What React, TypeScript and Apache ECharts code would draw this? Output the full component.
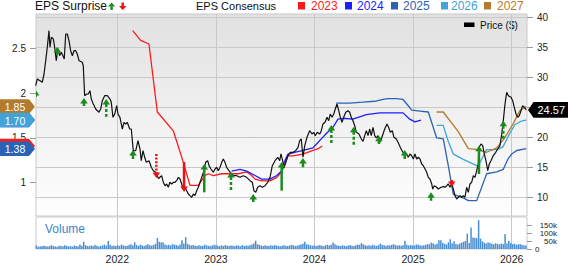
import React, { useEffect, useRef } from "react";
import * as echarts from "echarts";

const FONT = '"Liberation Sans", Arial, Helvetica, sans-serif';

// ---------- tick labels ----------
const yearTicks = [2022, 2023, 2024, 2025, 2026];
const priceTicks = [10, 15, 20, 25, 30, 35, 40];
const priceLabelTicks = [10, 15, 20, 30, 35, 40]; // 25 sits under the last-price tag
const epsTicks = [1, 1.5, 2, 2.5];
const volumeTicksK = [0, 50, 100, 150];

// ---------- price ($), [decimal year, close] ----------
const price: [number, number][] = [
  [2021.172, 28.6], [2021.189, 29.72], [2021.216, 29.43], [2021.239, 29.17], [2021.257, 30.55],
  [2021.274, 32.77], [2021.29, 35.0], [2021.307, 37.77], [2021.317, 35.0], [2021.331, 36.67],
  [2021.351, 36.38], [2021.365, 35.0], [2021.381, 32.77], [2021.399, 34.72], [2021.416, 33.6],
  [2021.432, 34.17], [2021.449, 33.6], [2021.462, 33.05], [2021.477, 37.22], [2021.493, 37.22],
  [2021.51, 36.1], [2021.527, 34.43], [2021.544, 33.6], [2021.561, 34.43], [2021.578, 34.43],
  [2021.594, 33.88], [2021.612, 32.77], [2021.645, 32.5], [2021.655, 31.93], [2021.669, 26.93],
  [2021.69, 27.22], [2021.706, 27.22], [2021.723, 27.77], [2021.736, 26.38], [2021.757, 25.55],
  [2021.781, 24.72], [2021.814, 24.17], [2021.832, 24.72], [2021.848, 26.1], [2021.872, 26.93],
  [2021.899, 26.93], [2021.926, 26.38], [2021.939, 25.83], [2021.956, 23.33], [2021.974, 23.88],
  [2021.994, 25.27], [2022.007, 23.88], [2022.027, 23.33], [2022.051, 21.38], [2022.068, 22.5],
  [2022.085, 22.22], [2022.101, 22.5], [2022.126, 21.38], [2022.142, 21.38], [2022.162, 17.77],
  [2022.187, 17.77], [2022.21, 19.43], [2022.23, 18.05], [2022.243, 16.1], [2022.261, 17.77],
  [2022.278, 16.67], [2022.294, 15.83], [2022.322, 16.1], [2022.345, 15.0], [2022.365, 14.43],
  [2022.39, 14.17], [2022.418, 13.13], [2022.45, 13.6], [2022.467, 12.5], [2022.484, 11.93],
  [2022.501, 12.22], [2022.517, 11.67], [2022.534, 12.5], [2022.552, 12.22], [2022.568, 12.5],
  [2022.585, 12.5], [2022.602, 12.77], [2022.619, 13.33], [2022.636, 13.05], [2022.653, 12.22],
  [2022.669, 11.38], [2022.686, 11.67], [2022.704, 11.1], [2022.72, 10.55], [2022.737, 10.27],
  [2022.755, 10.0], [2022.771, 10.55], [2022.788, 10.27], [2022.805, 11.1], [2022.822, 11.67],
  [2022.856, 13.33], [2022.879, 14.43], [2022.896, 15.83], [2022.917, 16.1], [2022.93, 15.27],
  [2022.95, 14.72], [2022.974, 14.17], [2022.991, 14.72], [2023.008, 15.0], [2023.024, 14.43],
  [2023.042, 15.0], [2023.059, 15.83], [2023.075, 16.38], [2023.092, 15.83], [2023.109, 15.0],
  [2023.133, 14.43], [2023.153, 14.0], [2023.177, 13.6], [2023.211, 13.6], [2023.244, 13.33],
  [2023.278, 13.6], [2023.312, 13.33], [2023.346, 12.77], [2023.369, 12.5], [2023.386, 11.1],
  [2023.404, 10.83], [2023.424, 11.67], [2023.447, 11.93], [2023.471, 11.67], [2023.498, 11.93],
  [2023.525, 12.5], [2023.549, 13.33], [2023.572, 15.27], [2023.6, 16.1], [2023.627, 16.67],
  [2023.647, 16.1], [2023.66, 17.22], [2023.677, 16.1], [2023.691, 14.88], [2023.714, 16.1],
  [2023.731, 16.93], [2023.755, 17.5], [2023.782, 17.5], [2023.809, 17.77], [2023.833, 18.33],
  [2023.85, 19.43], [2023.866, 19.72], [2023.883, 16.67], [2023.901, 18.6], [2023.924, 20.0],
  [2023.951, 21.1], [2023.975, 20.55], [2023.992, 20.83], [2024.008, 20.27], [2024.028, 20.83],
  [2024.053, 20.55], [2024.069, 21.1], [2024.086, 22.22], [2024.107, 22.5], [2024.127, 23.33],
  [2024.144, 22.77], [2024.16, 23.88], [2024.178, 23.33], [2024.195, 23.88], [2024.211, 24.72],
  [2024.228, 25.55], [2024.246, 24.43], [2024.262, 23.33], [2024.279, 22.5], [2024.296, 23.33],
  [2024.317, 24.17], [2024.34, 24.43], [2024.357, 24.17], [2024.373, 23.33], [2024.39, 22.77],
  [2024.408, 21.93], [2024.424, 20.83], [2024.451, 20.55], [2024.475, 19.72], [2024.492, 19.33],
  [2024.509, 20.27], [2024.526, 21.1], [2024.543, 20.27], [2024.56, 21.38], [2024.576, 20.27],
  [2024.593, 21.67], [2024.611, 20.27], [2024.627, 19.88], [2024.644, 20.27], [2024.661, 19.17],
  [2024.678, 19.72], [2024.695, 20.55], [2024.712, 21.38], [2024.735, 22.22], [2024.752, 21.67],
  [2024.769, 20.83], [2024.789, 21.1], [2024.806, 20.0], [2024.83, 19.72], [2024.847, 19.17],
  [2024.87, 18.33], [2024.887, 17.77], [2024.908, 17.22], [2024.933, 17.22], [2024.951, 16.67],
  [2024.968, 17.22], [2024.986, 16.93], [2025.002, 16.38], [2025.019, 17.22], [2025.036, 16.38],
  [2025.053, 16.67], [2025.07, 16.38], [2025.087, 15.55], [2025.104, 15.27], [2025.121, 14.72],
  [2025.138, 14.17], [2025.154, 13.33], [2025.171, 13.05], [2025.189, 12.22], [2025.199, 11.38],
  [2025.215, 11.93], [2025.239, 11.67], [2025.256, 11.38], [2025.283, 11.67], [2025.306, 11.77],
  [2025.324, 11.67], [2025.341, 11.93], [2025.357, 12.22], [2025.374, 11.67], [2025.392, 12.22],
  [2025.408, 11.38], [2025.425, 10.27], [2025.442, 9.72], [2025.459, 10.0], [2025.476, 10.27],
  [2025.493, 10.0], [2025.509, 10.27], [2025.526, 10.0], [2025.543, 11.67], [2025.56, 10.83],
  [2025.577, 12.22], [2025.594, 12.5], [2025.611, 13.6], [2025.628, 13.33], [2025.645, 14.43],
  [2025.661, 15.55], [2025.668, 18.33], [2025.689, 18.88], [2025.706, 18.6], [2025.722, 17.22],
  [2025.739, 16.1], [2025.757, 14.43], [2025.773, 15.55], [2025.79, 16.1], [2025.813, 16.93],
  [2025.838, 17.5], [2025.858, 18.05], [2025.881, 18.6], [2025.899, 20.55], [2025.915, 22.77],
  [2025.932, 25.55], [2025.949, 27.5], [2025.966, 26.93], [2025.993, 26.67], [2026.01, 26.1],
  [2026.026, 25.0], [2026.044, 23.88], [2026.061, 23.33], [2026.077, 23.6], [2026.094, 24.43],
  [2026.111, 25.27], [2026.128, 25.0], [2026.148, 24.57],
];

// ---------- EPS consensus by fiscal year, [decimal year, EPS] ----------
const eps2023: [number, number][] = [
  [2022.156, 2.7], [2022.237, 2.59], [2022.321, 2.55], [2022.406, 1.79], [2022.568, 1.58],
  [2022.669, 1.23], [2022.737, 0.97], [2022.821, 0.97], [2022.889, 1.08], [2022.923, 1.1],
  [2022.974, 1.08], [2023.059, 1.1], [2023.143, 1.1], [2023.227, 1.1], [2023.312, 1.12],
  [2023.363, 1.08], [2023.397, 1.04], [2023.464, 1.02], [2023.549, 1.02], [2023.617, 1.06],
  [2023.667, 1.12], [2023.698, 1.21], [2023.731, 1.3], [2023.782, 1.3], [2023.883, 1.32],
  [2023.985, 1.36], [2024.036, 1.38], [2024.079, 1.41],
];
const eps2024: [number, number][] = [
  [2023.16, 1.13], [2023.244, 1.15], [2023.312, 1.13], [2023.397, 1.08], [2023.464, 1.04],
  [2023.549, 1.04], [2023.617, 1.08], [2023.667, 1.13], [2023.684, 1.21], [2023.731, 1.32],
  [2023.799, 1.34], [2023.883, 1.36], [2023.985, 1.39], [2024.018, 1.43], [2024.069, 1.49],
  [2024.12, 1.55], [2024.188, 1.62], [2024.238, 1.71], [2024.289, 1.72], [2024.39, 1.71],
  [2024.525, 1.76], [2024.661, 1.78], [2024.796, 1.78], [2024.898, 1.78], [2024.966, 1.71],
  [2025.019, 1.68], [2025.08, 1.7],
];
const eps2025: [number, number][] = [
  [2024.221, 1.89], [2024.357, 1.89], [2024.492, 1.9], [2024.611, 1.91], [2024.695, 1.93],
  [2024.745, 1.94], [2024.83, 1.94], [2024.898, 1.93], [2024.951, 1.86], [2024.986, 1.81],
  [2025.07, 1.8], [2025.154, 1.79], [2025.239, 1.5], [2025.306, 1.49], [2025.357, 1.19],
  [2025.408, 0.87], [2025.509, 0.83], [2025.56, 0.8], [2025.645, 0.8], [2025.746, 1.1],
  [2025.848, 1.12], [2025.915, 1.15], [2025.965, 1.27], [2026.0, 1.32], [2026.051, 1.36],
  [2026.148, 1.38],
];
const eps2026: [number, number][] = [
  [2025.239, 1.64], [2025.306, 1.64], [2025.357, 1.46], [2025.408, 1.32], [2025.509, 1.26],
  [2025.645, 1.19], [2025.661, 1.19], [2025.746, 1.37], [2025.851, 1.37], [2025.912, 1.4],
  [2025.965, 1.52], [2026.033, 1.65], [2026.101, 1.69], [2026.148, 1.7],
];
const eps2027: [number, number][] = [
  [2025.239, 1.79], [2025.306, 1.79], [2025.458, 1.57], [2025.56, 1.38], [2025.658, 1.37],
  [2025.746, 1.34], [2025.848, 1.39], [2025.922, 1.49], [2026.016, 1.66], [2026.084, 1.81],
  [2026.148, 1.85],
];

// ---------- EPS surprises: [decimal year, arrow top ($), arrow bottom ($), 1 beat / -1 miss, stem 0 solid / 1 dashed / 2 dotted] ----------
const surprises: [number, number, number, number, number][] = [
  [2021.172, 27.88, 26.72, 1, 0],
  [2021.391, 35.1, 33.6, 1, 1],
  [2021.662, 26.55, 25.22, 1, 0],
  [2021.888, 26.38, 23.43, 1, 1],
  [2022.159, 17.88, 16.38, 1, 0],
  [2022.396, 17.22, 13.22, -1, 2],
  [2022.677, 15.88, 10.88, -1, 0],
  [2022.882, 15.55, 10.83, 1, 0],
  [2023.153, 14.22, 10.88, 1, 1],
  [2023.379, 10.55, 9.22, 1, 0],
  [2023.667, 15.88, 11.1, 1, 0],
  [2023.883, 16.55, 15.0, 1, 0],
  [2024.171, 22.05, 18.88, 1, 1],
  [2024.398, 21.77, 18.6, 1, 1],
  [2024.654, 20.27, 18.88, 1, 0],
  [2024.915, 17.88, 16.38, 1, 0],
  [2025.182, 10.83, 9.43, 1, 0],
  [2025.392, 12.88, 11.72, -1, 0],
  [2025.668, 18.6, 13.88, 1, 0],
  [2025.915, 22.77, 19.72, 1, 1],
];

// ---------- weekly volume (thousands of shares) ----------
const volumeStart = 2021.18;
const weeksPerYear = 52.18;
const volumeK: number[] = [
  22, 14, 16, 18, 20, 17, 15, 19, 24, 18, 16, 14, 21, 19, 17, 23, 20, 16, 18, 15, 22, 19, 17, 28, 21, 46,
  24, 19, 17, 22, 18, 25, 20, 16, 19, 23, 27, 21, 50, 26, 19, 22, 18, 24, 20, 28, 23, 19, 21, 25, 30, 22,
  42, 24, 20, 27, 22, 19, 25, 30, 23, 21, 26, 33, 69, 45, 40, 42, 28, 24, 26, 22, 30, 27, 25, 21, 28, 54,
  35, 74, 32, 26, 22, 25, 20, 18, 24, 21, 19, 27, 23, 20, 18, 22, 26, 24, 20, 17, 23, 19, 25, 21, 18, 22,
  20, 18, 23, 21, 17, 25, 19, 22, 20, 24, 28, 35, 52, 30, 26, 22, 19, 24, 21, 18, 23, 20, 25, 22, 19, 17,
  21, 24, 20, 18, 22, 26, 23, 19, 21, 25, 28, 33, 46, 30, 27, 24, 20, 23, 19, 22, 25, 21, 18, 24, 27, 22,
  26, 41, 30, 24, 21, 19, 23, 20, 18, 22, 25, 21, 19, 24, 28, 26, 37, 29, 23, 20, 24, 21, 26, 22, 19, 25,
  33, 27, 23, 20, 24, 22, 26, 30, 25, 21, 23, 20, 24, 52, 27, 22, 25, 23, 21, 28, 26, 24, 20, 23, 27, 30,
  30, 40, 35, 28, 33, 54, 54, 38, 33, 29, 42, 61, 36, 48, 31, 28, 34, 40, 45, 50, 96, 38, 135, 72, 70, 68,
  180, 65, 48, 40, 35, 42, 38, 33, 30, 36, 32, 29, 34, 31, 93, 35, 52, 38, 30, 33, 27, 29, 31, 26, 24, 22,
];

// ---------- axis ranges / styling ----------
const X_MIN = 2021.1755;
const X_MAX = 2026.1552;
const PRICE_MIN = 6.883;
const PRICE_MAX = 40.55;
const EPS_MIN = 0.628;
const EPS_MAX = 2.885;
const VOL_MAX = 200;

const GREEN = "#1d8a1d";
const RED = "#ee1111";
const GRID_COLOR = "#c9c9c9";

const consensus = [
  { name: "2023", color: "#ff1a1a", data: eps2023 },
  { name: "2024", color: "#1e1eff", data: eps2024 },
  { name: "2025", color: "#2a63b5", data: eps2025 },
  { name: "2026", color: "#41a3d6", data: eps2026 },
  { name: "2027", color: "#b27b2e", data: eps2027 },
];
// order in which the end-value tags are stacked (last drawn on top); covered tags carry no text
const tagOrder = [
  { name: "2024", text: false },
  { name: "2023", text: false },
  { name: "2027", text: true },
  { name: "2026", text: true },
  { name: "2025", text: true },
];

function buildOption() {
  const legendItems: any[] = [];
  legendItems.push({
    type: "text", left: 35, top: 0,
    style: { text: "EPS Surprise", font: `12px ${FONT}`, fill: "#111" },
  });
  legendItems.push({ type: "polygon", shape: { points: [[111.6, 2.5], [115.2, 6.5], [108, 6.5]] }, style: { fill: GREEN } });
  legendItems.push({ type: "rect", shape: { x: 110.4, y: 6.3, width: 2.4, height: 3.7 }, style: { fill: GREEN } });
  legendItems.push({ type: "rect", shape: { x: 121.5, y: 2.5, width: 2.4, height: 3.7 }, style: { fill: RED } });
  legendItems.push({ type: "polygon", shape: { points: [[119, 6], [126.4, 6], [122.7, 10]] }, style: { fill: RED } });
  legendItems.push({
    type: "text", left: 196, top: 0,
    style: { text: "EPS Consensus", font: `11px ${FONT}`, fill: "#111" },
  });
  const sqX = [298, 345, 391, 441, 484];
  const txX = [311, 357, 403, 451, 497];
  consensus.forEach((c, i) => {
    legendItems.push({ type: "rect", shape: { x: sqX[i], y: 2, width: 7, height: 7.5 }, style: { fill: c.color } });
    legendItems.push({
      type: "text", left: txX[i], top: 0,
      style: { text: c.name, font: `12px ${FONT}`, fill: c.color },
    });
  });
  legendItems.push({ type: "rect", shape: { x: 464, y: 22.5, width: 10.5, height: 4.5 }, style: { fill: "#000" } });
  legendItems.push({
    type: "text", left: 480, top: 20,
    style: { text: "Price ($)", font: `10px ${FONT}`, fill: "#111" },
  });
  legendItems.push({
    type: "text", left: 45, top: 223,
    style: { text: "Volume", font: `12px ${FONT}`, fill: "#3b86c8" },
  });

  const lastOf = (d: [number, number][]) => d[d.length - 1];
  const tagData = tagOrder.map((tg) => {
    const c = consensus.find((k) => k.name === tg.name)!;
    const [t, v] = lastOf(c.data);
    return { value: [t, v, tg.text ? 1 : 0], itemStyle: { color: c.color } };
  });

  const series: any[] = [];
  consensus.forEach((c) => {
    series.push({
      type: "line", name: c.name, data: c.data, xAxisIndex: 0, yAxisIndex: 0,
      showSymbol: false, symbol: "none", lineStyle: { color: c.color, width: 1.3 }, z: 2, silent: true,
    });
  });
  series.push({
    type: "line", name: "Price ($)", data: price, xAxisIndex: 0, yAxisIndex: 1,
    showSymbol: false, symbol: "none", lineStyle: { color: "#111", width: 1.2 }, z: 3, silent: true,
  });
  series.push({
    type: "custom", name: "EPS Surprise", data: surprises, xAxisIndex: 0, yAxisIndex: 1,
    clip: true, z: 4, silent: true,
    renderItem: (params: any, api: any) => {
      const t = api.value(0);
      const top = api.coord([t, api.value(1)]);
      const bot = api.coord([t, api.value(2)]);
      const dir = api.value(3);
      const st = api.value(4);
      const x = top[0];
      const color = dir > 0 ? GREEN : RED;
      const hh = 5.5, hw = 3.8;
      const dash = st === 1 ? [3, 2] : st === 2 ? [2, 1.6] : undefined;
      const children: any[] = [];
      if (dir > 0) {
        children.push({ type: "line", shape: { x1: x, y1: top[1] + hh - 0.5, x2: x, y2: bot[1] },
          style: { stroke: color, lineWidth: 2.5, lineDash: dash } });
        children.push({ type: "polygon", shape: { points: [[x, top[1]], [x + hw, top[1] + hh], [x - hw, top[1] + hh]] },
          style: { fill: color } });
      } else {
        children.push({ type: "line", shape: { x1: x, y1: top[1], x2: x, y2: bot[1] - hh + 0.5 },
          style: { stroke: color, lineWidth: 2.5, lineDash: dash } });
        children.push({ type: "polygon", shape: { points: [[x, bot[1]], [x + hw, bot[1] - hh], [x - hw, bot[1] - hh]] },
          style: { fill: color } });
      }
      return { type: "group", children };
    },
  });
  series.push({
    type: "custom", name: "Consensus tags", data: tagData, xAxisIndex: 0, yAxisIndex: 0,
    clip: false, z: 6, silent: true,
    renderItem: (params: any, api: any) => {
      const v = api.value(1);
      const y = api.coord([api.value(0), v])[1];
      const gx = params.coordSys.x;
      const h = 7.3;
      const color = api.visual("color");
      const children: any[] = [
        { type: "polygon", shape: { points: [[0, y - h], [gx - 7, y - h], [gx - 1, y], [gx - 7, y + h], [0, y + h]] },
          style: { fill: color } },
      ];
      if (api.value(2) === 1) {
        children.push({ type: "text", style: { text: v.toFixed(2), x: (gx - 7) / 2 + 0.5, y: y + 0.5, fill: "#fff",
          font: `10.5px ${FONT}`, align: "center", verticalAlign: "middle" } });
      }
      return { type: "group", children };
    },
  });
  series.push({
    type: "custom", name: "Last price", data: [lastOf(price)], xAxisIndex: 0, yAxisIndex: 1,
    clip: false, z: 6, silent: true,
    renderItem: (params: any, api: any) => {
      const v = api.value(1);
      const y = api.coord([api.value(0), v])[1];
      const gx = params.coordSys.x + params.coordSys.width;
      const h = 7.8;
      return {
        type: "group",
        children: [
          { type: "polygon", shape: { points: [[gx + 1, y], [gx + 6.5, y - h], [568, y - h], [568, y + h], [gx + 6.5, y + h]] },
            style: { fill: "#000" } },
          { type: "text", style: { text: v.toFixed(2), x: (gx + 6.5 + 568) / 2 + 0.5, y: y + 0.5, fill: "#fff",
            font: `11px ${FONT}`, align: "center", verticalAlign: "middle" } },
        ],
      };
    },
  });
  series.push({
    type: "bar", name: "Volume", xAxisIndex: 1, yAxisIndex: 2,
    data: volumeK.map((v, i) => [volumeStart + i / weeksPerYear, v]),
    barWidth: 1.5, itemStyle: { color: "#4a8fd4" }, silent: true, z: 2,
  });

  const axisText = { color: "#222", fontFamily: FONT, fontSize: 10 };
  const volText = { color: "#222", fontFamily: FONT, fontSize: 8, lineHeight: 8 };

  // volume labels are split over three overlaid axes so that none of them gets dropped for crowding
  const volumeAxis = (labels: number[], align: "left" | "right", margin: number, withTicks: boolean) => ({
    type: "value", gridIndex: 1, position: "right", min: 0, max: VOL_MAX,
    axisLine: { show: false },
    axisTick: { show: withTicks, length: 5, lineStyle: { color: "#999" }, customValues: withTicks ? volumeTicksK : labels },
    axisLabel: {
      ...volText, margin, align, customValues: labels,
      formatter: (v: number) => (v === 0 ? "0" : `${v}k`),
    },
    splitLine: { show: false },
  });

  return {
    animation: false,
    textStyle: { fontFamily: FONT },
    grid: [
      {
        left: 36, right: 41, top: 14, height: 202, show: true,
        backgroundColor: new echarts.graphic.LinearGradient(0, 0, 0, 1, [
          { offset: 0, color: "#e1e1e1" },
          { offset: 1, color: "#ffffff" },
        ]),
        borderColor: GRID_COLOR, borderWidth: 1,
      },
      { left: 36, right: 41, top: 217, height: 36, show: true, backgroundColor: "#fff", borderColor: GRID_COLOR, borderWidth: 1 },
    ],
    xAxis: [
      {
        type: "value", gridIndex: 0, min: X_MIN, max: X_MAX,
        axisLine: { show: false }, axisTick: { show: false, customValues: yearTicks },
        axisLabel: { show: false, customValues: yearTicks },
        splitLine: { show: true, lineStyle: { color: GRID_COLOR, width: 1 } },
      },
      {
        type: "value", gridIndex: 1, min: X_MIN, max: X_MAX,
        axisLine: { show: false }, axisTick: { show: false, customValues: yearTicks },
        axisLabel: { ...axisText, fontSize: 10.5, margin: 4, customValues: yearTicks, formatter: (v: number) => String(Math.round(v)) },
        splitLine: { show: true, lineStyle: { color: GRID_COLOR, width: 1 } },
      },
    ],
    yAxis: [
      {
        type: "value", gridIndex: 0, position: "left", min: EPS_MIN, max: EPS_MAX,
        axisLine: { show: false },
        axisTick: { show: true, length: 6, lineStyle: { color: "#999" }, customValues: epsTicks },
        axisLabel: { ...axisText, margin: 10, customValues: epsTicks, formatter: (v: number) => String(v) },
        splitLine: { show: false },
      },
      {
        type: "value", gridIndex: 0, position: "right", min: PRICE_MIN, max: PRICE_MAX,
        axisLine: { show: false },
        axisTick: { show: true, length: 6, lineStyle: { color: "#999" }, customValues: priceTicks },
        axisLabel: { ...axisText, margin: 10, customValues: priceLabelTicks, formatter: (v: number) => String(v) },
        splitLine: { show: true, lineStyle: { color: GRID_COLOR, width: 1 } },
      },
      volumeAxis([volumeTicksK[2]], "right", 30, true),
      volumeAxis([volumeTicksK[1], volumeTicksK[3]], "right", 30, false),
      volumeAxis([volumeTicksK[0]], "left", 8, false),
    ],
    graphic: { elements: legendItems },
    series,
  };
}

export default function App() {
  const ref = useRef<HTMLDivElement>(null);
  useEffect(() => {
    if (!ref.current) return;
    const chart = echarts.init(ref.current, undefined, { renderer: "svg" });
    chart.setOption(buildOption() as any);
    return () => chart.dispose();
  }, []);
  return (
    <div
      ref={ref}
      style={{ position: "fixed", left: 0, top: 0, width: 568, height: 264, background: "#fff" }}
    />
  );
}
